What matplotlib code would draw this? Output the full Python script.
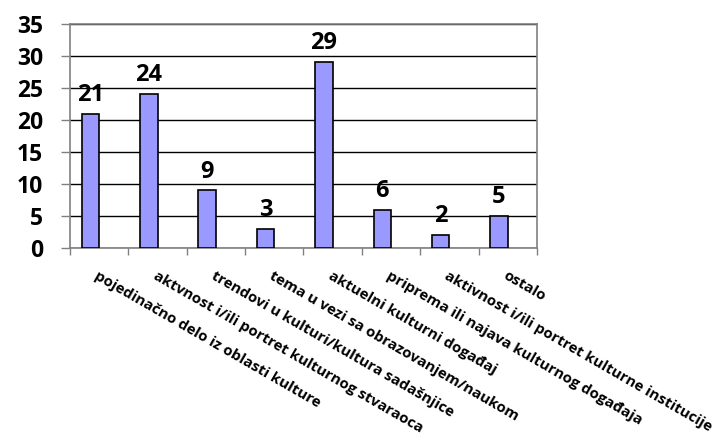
import matplotlib.pyplot as plt
from matplotlib.ticker import FixedLocator

categories = [
    "pojedinačno delo iz oblasti kulture",
    "aktvnost i/ili portret kulturnog stvaraoca",
    "trendovi u kulturi/kultura sadašnjice",
    "tema u vezi sa obrazovanjem/naukom",
    "aktuelni kulturni događaj",
    "priprema ili najava kulturnog događaja",
    "aktivnost i/ili portret kulturne institucije",
    "ostalo",
]
counts = [21, 24, 9, 3, 29, 6, 2, 5]
y_ticks = [0, 5, 10, 15, 20, 25, 30, 35]

plt.rcParams['font.family'] = ['Open Sans', 'DejaVu Sans']

fig = plt.figure(figsize=(7.25, 4.36), dpi=100)
ax = fig.add_axes([0.0966, 0.431, 0.644, 0.514])

pos = list(range(len(categories)))
bar_w = 0.3
# bars sit just left of each category centre
bars = ax.bar([p - bar_w for p in pos], counts, width=bar_w, align='edge',
              color='#9999ff', edgecolor='black', linewidth=1.2, zorder=3)

for p, v in zip(pos, counts):
    ax.annotate(str(v), (p - bar_w / 2, v), xytext=(0, 5), textcoords='offset points',
                ha='center', va='bottom', fontsize=17, fontweight='bold')

ax.set_xlim(-0.5, len(categories) - 0.5)
ax.set_ylim(0, 35)
ax.set_yticks(y_ticks)
ax.set_yticklabels([str(t) for t in y_ticks], fontsize=16.5, fontweight='bold')
ax.yaxis.grid(True, color='black', linewidth=1, zorder=0)
ax.tick_params(axis='y', length=6.5, width=1, color='#808080', pad=13)

ax.set_xticks(pos)
ax.set_xticklabels(categories, rotation=-30, ha='left', va='top',
                   rotation_mode='anchor', fontsize=10.8, fontweight='bold')
ax.tick_params(axis='x', which='major', length=0, pad=15)
ax.xaxis.set_minor_locator(FixedLocator([p - 0.5 for p in pos] + [len(pos) - 0.5]))
ax.tick_params(axis='x', which='minor', length=5, width=1, color='#808080')

for side in ['top', 'right', 'left', 'bottom']:
    ax.spines[side].set_color('#808080')
    ax.spines[side].set_linewidth(1.2)

fig.savefig('out.png', dpi=100)
